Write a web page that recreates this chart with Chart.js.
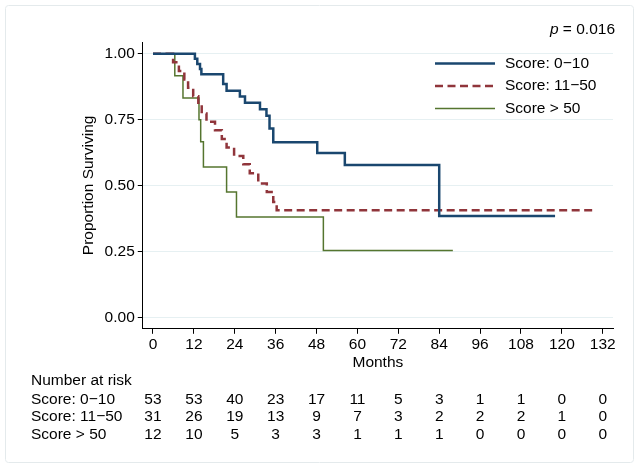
<!DOCTYPE html>
<html>
<head>
<meta charset="utf-8">
<script src="https://cdn.jsdelivr.net/npm/chart.js@4.4.1/dist/chart.umd.min.js"></script>
<style>
  html, body { margin: 0; padding: 0; background: #fff; }
  #wrap { width: 640px; height: 468px; position: relative; }
</style>
</head>
<body>
<div id="wrap"><canvas id="km"></canvas></div>
<script>
const seriesNames = ['Score: 0\u221210', 'Score: 11\u221250', 'Score > 50']

// Kaplan-Meier steps (months, proportion surviving)
const lowMonths = [0, 12.3, 13.0, 13.8, 14.2, 20.6, 21.6, 25.5, 27.0, 31.4, 33.3, 34.2, 35.3, 48.2, 56.3, 84.0, 118]
const lowSurv = [1, 0.981, 0.962, 0.943, 0.923, 0.886, 0.860, 0.838, 0.815, 0.790, 0.765, 0.717, 0.665, 0.624, 0.578, 0.385, 0.385]

const midMonths = [0, 5.9, 7.6, 9.2, 10.3, 11.8, 13.3, 14.3, 15.7, 18.2, 20.2, 21.6, 23.8, 26.5, 28.4, 30.9, 33.4, 35.3, 36.3, 130]
const midSurv = [1, 0.968, 0.935, 0.903, 0.871, 0.839, 0.806, 0.774, 0.742, 0.710, 0.677, 0.645, 0.613, 0.581, 0.547, 0.508, 0.476, 0.438, 0.407, 0.407]

const highMonths = [0, 6.4, 8.8, 13.5, 14.0, 14.8, 21.6, 24.5, 50.0, 88]
const highSurv = [1, 0.917, 0.833, 0.750, 0.667, 0.571, 0.476, 0.381, 0.254, 0.254]

const xTicks = [0, 12, 24, 36, 48, 60, 72, 84, 96, 108, 120, 132]
const yTicks = [0, 0.25, 0.5, 0.75, 1]

const riskLow = [53, 53, 40, 23, 17, 11, 5, 3, 1, 1, 0, 0]
const riskMid = [31, 26, 19, 13, 9, 7, 3, 2, 2, 2, 1, 0]
const riskHigh = [12, 10, 5, 3, 3, 1, 1, 1, 0, 0, 0, 0]

const pValue = '0.016'

const FONT = '"Liberation Sans", Arial, sans-serif'
const SIZE = 15.5

const toPoints = (xs, ys) => xs.map((x, i) => ({ x, y: ys[i] }))

const frame = {
  id: 'frame',
  beforeDraw(chart) {
    const c = chart.ctx
    c.save()
    c.strokeStyle = '#e4eaec'
    c.lineWidth = 1
    c.beginPath()
    c.roundRect(5.5, 5.5, 628, 457, 3)
    c.stroke()
    c.restore()
  }
}

const extras = {
  id: 'extras',
  afterDraw(chart) {
    const c = chart.ctx
    const x = chart.scales.x
    c.save()
    c.fillStyle = '#000'
    c.textBaseline = 'middle'

    // p value
    c.font = `${SIZE}px ${FONT}`
    const rest = ' = ' + pValue
    const wRest = c.measureText(rest).width
    c.textAlign = 'right'
    c.fillText(rest, 615, 30)
    c.font = `italic ${SIZE}px ${FONT}`
    c.fillText('p', 615 - wRest, 30)

    // legend
    const rowsY = [63.5, 86, 108.5]
    chart.data.datasets.forEach((ds, i) => {
      c.strokeStyle = ds.borderColor
      c.lineWidth = ds.borderWidth
      c.setLineDash(ds.borderDash || [])
      c.beginPath()
      c.moveTo(435, rowsY[i])
      c.lineTo(495, rowsY[i])
      c.stroke()
      c.setLineDash([])
      c.font = `${SIZE}px ${FONT}`
      c.textAlign = 'left'
      c.fillText(ds.label, 505, rowsY[i])
    })

    // number at risk table
    c.font = `${SIZE}px ${FONT}`
    c.textAlign = 'left'
    c.fillText('Number at risk', 31, 381)
    const rows = [riskLow, riskMid, riskHigh]
    const tableY = [399.5, 417, 434.5]
    rows.forEach((row, r) => {
      c.textAlign = 'left'
      c.fillText(seriesNames[r], 31, tableY[r])
      c.textAlign = 'center'
      row.forEach((n, i) => c.fillText(String(n), x.getPixelForValue(xTicks[i]), tableY[r]))
    })
    c.restore()
  }
}

new Chart(document.getElementById('km'), {
  type: 'line',
  data: {
    datasets: [
      { label: seriesNames[0], data: toPoints(lowMonths, lowSurv), borderColor: '#1a476f', borderWidth: 2.5 },
      { label: seriesNames[1], data: toPoints(midMonths, midSurv), borderColor: '#90353b', borderWidth: 2.5, borderDash: [8, 4.5] },
      { label: seriesNames[2], data: toPoints(highMonths, highSurv), borderColor: '#55752f', borderWidth: 1.5 }
    ].map(d => ({ ...d, stepped: true, pointRadius: 0, fill: false, tension: 0 }))
  },
  options: {
    responsive: true,
    maintainAspectRatio: false,
    animation: false,
    events: [],
    layout: { padding: { top: 42, right: 27, bottom: 96, left: 75 } },
    plugins: { legend: { display: false }, tooltip: { enabled: false } },
    scales: {
      x: {
        type: 'linear',
        min: -3,
        max: 135,
        afterBuildTicks: s => { s.ticks = xTicks.map(v => ({ value: v })) },
        border: { color: '#000', width: 1 },
        grid: { drawOnChartArea: false, tickLength: 5, tickColor: '#000' },
        ticks: { color: '#000', font: { family: FONT, size: SIZE }, padding: 2, maxRotation: 0 },
        title: { display: true, text: 'Months', color: '#000', font: { family: FONT, size: SIZE }, padding: { top: -3, bottom: 0 } }
      },
      y: {
        min: -0.043,
        max: 1.045,
        afterBuildTicks: s => { s.ticks = yTicks.map(v => ({ value: v })) },
        border: { color: '#000', width: 1 },
        grid: { color: '#e6f0f2', lineWidth: 1, tickLength: 5, tickColor: '#000' },
        ticks: { color: '#000', font: { family: FONT, size: SIZE }, padding: 3, callback: v => v.toFixed(2) },
        title: { display: true, text: 'Proportion Surviving', color: '#000', font: { family: FONT, size: SIZE }, padding: { top: 4, bottom: 4 } }
      }
    }
  },
  plugins: [frame, extras]
})
</script>
</body>
</html>
